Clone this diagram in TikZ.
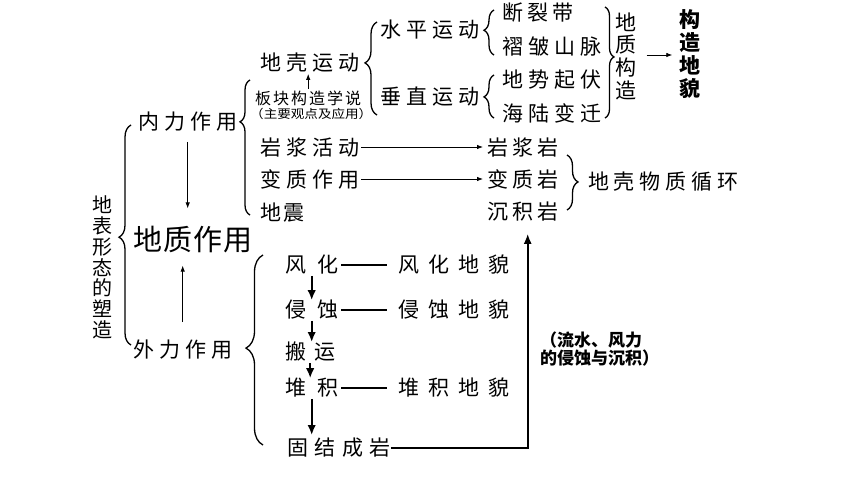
\documentclass[tikz,border=0pt]{standalone}
\usepackage{fontspec}
\setmainfont{Noto Sans CJK SC}
\usetikzlibrary{arrows.meta,decorations.pathreplacing,calc}
\makeatletter
\newcommand\tracked[2]{\def\tr@gap{#1}\let\tr@sep\relax\@tfor\tr@c:=#2\do{\tr@sep\tr@c\def\tr@sep{\hspace*{\tr@gap}}}}
\makeatother
\tikzset{
  lbl/.style={inner sep=0pt, anchor=west, font=\fontsize{21}{21}\selectfont},
  small/.style={inner sep=0pt, anchor=west, font=\fontsize{#1}{#1}\selectfont},
  vert/.style={inner sep=0pt, align=center, font=\fontsize{21}{22.7}\selectfont},
  brc/.style 2 args={decorate, decoration={brace, amplitude=#1, aspect=#2}, line width=1.3pt},
  thinarrow/.style={line width=0.8pt, -{Latex[length=6pt,width=4.5pt]}},
  thickarrow/.style={line width=2pt, -{Latex[length=10pt,width=8.5pt]}},
  link/.style={line width=1.2pt},
}
\begin{document}
\begin{tikzpicture}[x=1pt,y=-1pt]
\useasboundingbox (0,0) rectangle (860,484);
\fill[white] (0,0) rectangle (860,484);

% left column
\node[vert, font=\fontsize{20}{20.8}\selectfont] (dbxt) at (102,267.5) {地\\表\\形\\态\\的\\塑\\造};
\node[lbl] (nl) at (138,122) {\tracked{5pt}{内力作用}};
\node[small=29] (dz) at (133,240) {\tracked{1pt}{地质作用}};
\node[lbl] (wl) at (133,350) {\tracked{5pt}{外力作用}};

% internal forces
\node[lbl] (dkyd) at (260,63) {\tracked{5pt}{地壳运动}};
\node[small=16] (bk) at (255,98.5) {\tracked{2pt}{板块构造学说}};
\node[small=12] (zy) at (250,113.5) {\scalebox{1.13}[1]{（主要观点及应用）}};
\node[lbl] (yjhd) at (260,147) {\tracked{5pt}{岩浆活动}};
\node[lbl] (bzzy) at (260,179) {\tracked{5pt}{变质作用}};
\node[lbl] (dzhen) at (260,213) {\tracked{2pt}{地震}};

\node[lbl] (sp) at (380,30) {\tracked{5pt}{水平运动}};
\node[lbl] (cz) at (380,97) {\tracked{5pt}{垂直运动}};
\node[lbl] (dld) at (502,13) {\tracked{4pt}{断裂带}};
\node[lbl] (zz) at (502,47) {\tracked{5pt}{褶皱山脉}};
\node[lbl] (ds) at (502,80) {\tracked{5pt}{地势起伏}};
\node[lbl] (hl) at (502,113) {\tracked{5pt}{海陆变迁}};
\node[vert] (dzgz) at (626,56) {地\\质\\构\\造};
\node[vert, font=\fontsize{21}{22.7}\selectfont\bfseries] (gzdm) at (690,54) {构\\造\\地\\貌};

\node[lbl] (yjy) at (487,147) {\tracked{4pt}{岩浆岩}};
\node[lbl] (bzy) at (487,179) {\tracked{4pt}{变质岩}};
\node[lbl] (cjy) at (487,212) {\tracked{4pt}{沉积岩}};
\node[lbl] (xh) at (588,182) {\tracked{4.8pt}{地壳物质循环}};

% external forces
\node[lbl] (fh) at (285,265) {\tracked{11pt}{风化}};
\node[lbl] (qs) at (285,310) {\tracked{11pt}{侵蚀}};
\node[lbl] (by) at (285,352) {\tracked{8pt}{搬运}};
\node[lbl] (dj) at (285,388) {\tracked{11pt}{堆积}};
\node[lbl] (gj) at (287,448) {\tracked{6.5pt}{固结成岩}};
\node[lbl] (fhdm) at (398,265) {\tracked{9pt}{风化地貌}};
\node[lbl] (qsdm) at (398,310) {\tracked{9pt}{侵蚀地貌}};
\node[lbl] (djdm) at (398,388) {\tracked{9pt}{堆积地貌}};
\node[inner sep=0pt, anchor=west, align=left, font=\fontsize{17}{18.5}\selectfont\bfseries] (note) at (540,349) {（流水、风力\\的侵蚀与沉积）};

% braces
\draw[brc={12pt}{0.49}] (131,345) -- (131,125);
\draw[brc={10pt}{0.69}] (250,215) -- (250,80);
\draw[brc={12pt}{0.56}] (377,115) -- (377,22);
\draw[brc={10pt}{0.55}] (494,55) -- (494,10);
\draw[brc={10pt}{0.49}] (494,118) -- (494,75);
\draw[brc={9pt}{0.45}] (605,7) -- (605,118);
\draw[brc={11pt}{0.49}] (567,155) -- (567,210);
\draw[brc={17pt}{0.51}] (263,445) -- (263,255);

% connectors
\draw[thinarrow, shorten <=10pt, shorten >=18pt] (nl.south) -- (nl.south |- dz.north);
\draw[thinarrow, shorten <=18pt, shorten >=12pt] (wl.north) -- (wl.north |- dz.south);
\draw[thinarrow, shorten <=2pt, shorten >=1pt] (bk.north) -- (bk.north |- dkyd.south);
\draw[thinarrow, shorten <=2pt, shorten >=4pt] (yjhd.east) -- (yjy.west);
\draw[thinarrow, shorten <=2pt, shorten >=4pt] (bzzy.east) -- (bzy.west);
\draw[thinarrow, shorten <=10pt, shorten >=7pt] (dzgz.east |- 0,55) -- (gzdm.west |- 0,55);

\draw[link, shorten <=3pt, shorten >=11pt] (fh.east) -- (fhdm.west);
\draw[link, shorten <=3pt, shorten >=11pt] (qs.east) -- (qsdm.west);
\draw[link, shorten <=3pt, shorten >=11pt] (dj.east) -- (djdm.west);

\draw[thickarrow, shorten <=1pt] (fh.south) -- (fh.south |- qs.north);
\draw[thickarrow, shorten <=1pt] (qs.south) -- (qs.south |- by.north);
\draw[thickarrow, shorten <=1pt] (by.south) -- (by.south |- dj.north);
\draw[thickarrow, shorten <=1pt, shorten >=3pt] (dj.south) -- (dj.south |- gj.north);
\draw[line width=1.6pt, -{Latex[length=10pt,width=8pt]}, shorten >=12pt] (gj.east) -| ([xshift=5pt]cjy.south);
\end{tikzpicture}
\end{document}
